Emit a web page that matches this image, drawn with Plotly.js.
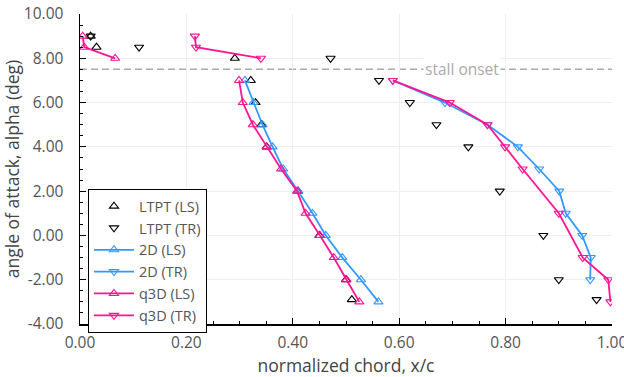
<!DOCTYPE html>
<html>
<head>
<meta charset="utf-8">
<script src="https://cdn.plot.ly/plotly-3.0.1.min.js"></script>
<style>html,body{margin:0;padding:0;background:#fff;}#chart{width:624px;height:377px;}</style>
</head>
<body>
<div id="chart"></div>
<script>
// LTPT experimental data (leading side / trailing side)
const ltptLS_x = [0.020, 0.031, 0.291, 0.321, 0.330, 0.341, 0.351, 0.410, 0.450, 0.500, 0.511];
const ltptLS_y = [9.0, 8.5, 8.0, 7.0, 6.0, 5.0, 4.0, 2.0, 0.0, -2.0, -2.9];
const ltptTR_x = [0.020, 0.111, 0.471, 0.562, 0.620, 0.670, 0.730, 0.789, 0.871, 0.900, 0.971];
const ltptTR_y = [9.0, 8.5, 8.0, 7.0, 6.0, 5.0, 4.0, 2.0, 0.0, -2.0, -2.9];
// 2D simulation
const d2LS_x = [0.310, 0.326, 0.343, 0.362, 0.382, 0.410, 0.437, 0.462, 0.493, 0.528, 0.561];
const d2LS_y = [7, 6, 5, 4, 3, 2, 1, 0, -1, -2, -3];
const d2TR_x = [0.588, 0.686, 0.766, 0.823, 0.863, 0.901, 0.913, 0.944, 0.960, 0.959];
const d2TR_y = [7, 6, 5, 4, 3, 2, 1, 0, -1, -2];
// quasi-3D simulation (null = break in line)
const q3LS_x = [0.005, 0.008, 0.066, null, 0.299, 0.306, 0.325, 0.351, 0.378, 0.408, 0.424, 0.451, 0.477, 0.501, 0.525];
const q3LS_y = [9.0, 8.5, 8.0, null, 7, 6, 5, 4, 3, 2, 1, 0, -1, -2, -3];
const q3TR_x = [0.216, 0.218, 0.340, null, 0.588, 0.695, 0.766, 0.799, 0.832, 0.900, 0.945, 0.993, 0.997];
const q3TR_y = [9.0, 8.5, 8.0, null, 7, 6, 5, 4, 3, 1, -1, -2, -3];
const stallAlpha = 7.5;
const xTicks = [0, 0.2, 0.4, 0.6, 0.8, 1.0];
const xTickText = ['0.00', '0.20', '0.40', '0.60', '0.80', '1.00'];
const yTicks = [-4, -2, 0, 2, 4, 6, 8, 10];
const yTickText = ['-4.00', '-2.00', '0.00', '2.00', '4.00', '6.00', '8.00', '10.00'];

const BLUE = '#3399ff', PINK = '#ff1493';
const mk = (sym, col) => ({symbol: sym, size: 8, color: col, line: {color: col, width: 1.1}});

const traces = [
  {x: ltptLS_x, y: ltptLS_y, name: 'LTPT (LS)', mode: 'markers', marker: mk('triangle-up-open', '#000')},
  {x: ltptTR_x, y: ltptTR_y, name: 'LTPT (TR)', mode: 'markers', marker: mk('triangle-down-open', '#000')},
  {x: d2LS_x, y: d2LS_y, name: '2D (LS)', mode: 'lines+markers', line: {color: BLUE, width: 1.8}, marker: mk('triangle-up-open', BLUE)},
  {x: d2TR_x, y: d2TR_y, name: '2D (TR)', mode: 'lines+markers', line: {color: BLUE, width: 1.8}, marker: mk('triangle-down-open', BLUE)},
  {x: q3LS_x, y: q3LS_y, name: 'q3D (LS)', mode: 'lines+markers', connectgaps: false, line: {color: PINK, width: 1.8}, marker: mk('triangle-up-open', PINK)},
  {x: q3TR_x, y: q3TR_y, name: 'q3D (TR)', mode: 'lines+markers', connectgaps: false, line: {color: PINK, width: 1.8}, marker: mk('triangle-down-open', PINK)}
];

const fontFam = '"Open Sans", "Noto Sans", sans-serif';
const layout = {
  width: 624, height: 377,
  margin: {l: 80, r: 12, t: 14, b: 53},
  paper_bgcolor: '#fff', plot_bgcolor: '#fff',
  font: {family: fontFam, color: '#444', size: 14},
  showlegend: true,
  legend: {x: 0.015, y: 0.435, xanchor: 'left', yanchor: 'top', bgcolor: '#fff', bordercolor: '#000', borderwidth: 1,
           font: {size: 14.5, color: '#555', family: fontFam}, tracegroupgap: 0, itemwidth: 40},
  xaxis: {
    range: [0, 1], tickvals: xTicks, ticktext: xTickText, ticklabeloverflow: 'allow',
    showgrid: true, gridcolor: '#eeeeee', gridwidth: 1, zeroline: false,
    showline: true, linecolor: '#000', linewidth: 1.5, mirror: false,
    ticks: 'inside', ticklen: 6, tickcolor: '#000', tickwidth: 1, ticklabelstandoff: 4,
    minor: {dtick: 0.05, ticks: 'inside', ticklen: 3, tickcolor: '#000', showgrid: false},
    tickfont: {size: 15.5, color: '#555'},
    title: {text: 'normalized chord, x/c', font: {size: 17.5, color: '#444'}, standoff: 10}
  },
  yaxis: {
    range: [-4, 10], tickvals: yTicks, ticktext: yTickText,
    showgrid: true, gridcolor: '#eeeeee', gridwidth: 1, zeroline: false,
    showline: true, linecolor: '#000', linewidth: 1.5, mirror: false,
    ticks: 'inside', ticklen: 6, tickcolor: '#000', tickwidth: 1, ticklabelstandoff: 12,
    minor: {dtick: 0.5, tick0: 0, ticks: 'inside', ticklen: 3, tickcolor: '#000', showgrid: false},
    tickfont: {size: 15.5, color: '#555'},
    title: {text: 'angle of attack, alpha (deg)', font: {size: 17.5, color: '#444'}, standoff: 6}
  },
  shapes: [
    {type: 'line', xref: 'paper', yref: 'y', x0: 0, x1: 1, y0: stallAlpha, y1: stallAlpha,
     line: {color: '#aaaaaa', width: 1.5, dash: '7px,4px'}, layer: 'below'}
  ],
  annotations: [
    {xref: 'x', yref: 'y', x: 0.718, y: stallAlpha, text: 'stall onset', showarrow: false,
     font: {size: 15.5, color: '#aaaaaa', family: fontFam}, bgcolor: '#ffffff', borderpad: 1, xanchor: 'center', yanchor: 'middle'}
  ]
};

Plotly.newPlot('chart', traces, layout, {displayModeBar: false, staticPlot: true});
</script>
</body>
</html>
